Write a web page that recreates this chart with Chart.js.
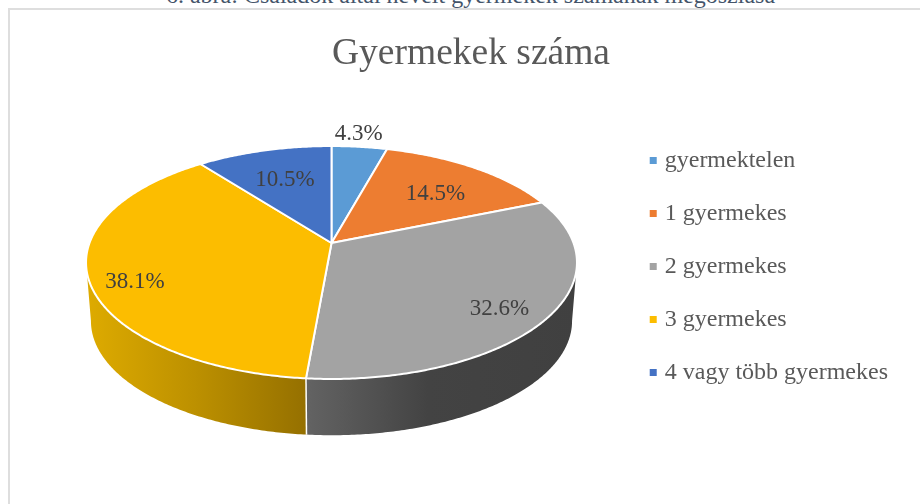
<!DOCTYPE html>
<html>
<head>
<meta charset="utf-8">
<script src="https://cdn.jsdelivr.net/npm/chart.js@4"></script>
<style>
  html, body { margin: 0; padding: 0; background: #fff; overflow: hidden; }
  #page { position: relative; width: 920px; height: 504px; overflow: hidden; }
  #caption { position: absolute; left: 0; width: 941px; top: -18px; text-align: center; font: 24px "Liberation Serif"; color: #44546A; white-space: nowrap; }
  #frame { position: absolute; left: 8px; top: 8px; width: 940px; height: 520px; border: 2px solid #DEDEDE; }
  canvas { position: absolute; left: 0; top: 0; }
</style>
</head>
<body>
<div id="page">
  <div id="caption">6. ábra: Családok által nevelt gyermekek számának megoszlása</div>
  <div id="frame"></div>
  <canvas id="pieChart" width="920" height="504"></canvas>
</div>
<script>
const categories = ['gyermektelen', '1 gyermekes', '2 gyermekes', '3 gyermekes', '4 vagy több gyermekes'];
const shares = [4.3, 14.5, 32.6, 38.1, 10.5];
const titleText = 'Gyermekek száma';

const sliceColors = ['#5B9BD5', '#ED7D31', '#A3A3A3', '#FCBD00', '#4472C4'];
// side wall gradients, only the two front slices show a wall
const wallColors = [null, null, ['#636363', '#434343', '#404040'], ['#DEAB00', '#BC9000', '#957000'], null];
const serif = '"Liberation Serif", "Times New Roman", serif';

// where the percent label sits: radius factor on the slice middle, then a small nudge
const labelRadius = [1.18, 0.705, 0.794, 0.812, 0.647];
const labelNudge = [[-5, 2], [0, 6], [0, 8], [-0.5, 12], [-0.5, 0]];

// perspective of the tilted disc
const apexX = 331.5;
const apexY = 243;
const tiltSquash = 113.2 / 242;
const tiltDepth = 0.1674;
const wallShift = 59;
const wallScale = 0.98;

function project(angle, radius, r, bottom) {
  const u = Math.cos(angle) * r;
  const v = Math.sin(angle) * r;
  const w = 1 - tiltDepth * v;
  const s = bottom ? wallScale : 1;
  return {
    x: apexX + s * radius * u / w,
    y: apexY + (bottom ? wallShift : 0) + s * radius * tiltSquash * v / w
  };
}

function arcPoints(start, end, radius, bottom) {
  const pts = [];
  const steps = Math.max(2, Math.ceil((end - start) / 0.01));
  for (let i = 0; i <= steps; i++) {
    pts.push(project(start + (end - start) * i / steps, radius, 1, bottom));
  }
  return pts;
}

// 3D look: the library's arc elements give the angles, the plugin draws them tilted
const tiltedPie = {
  id: 'tiltedPie',
  beforeDatasetDraw(chart) {
    const ctx = chart.ctx;
    const arcs = chart.getDatasetMeta(0).data;
    const frontStart = Math.asin(tiltDepth);
    const frontEnd = Math.PI - frontStart;

    ctx.save();
    ctx.lineJoin = 'round';

    // walls
    arcs.forEach((arc, i) => {
      if (!wallColors[i]) return;
      const start = Math.max(arc.startAngle, frontStart);
      const end = Math.min(arc.endAngle, frontEnd);
      if (end <= start) return;
      const top = arcPoints(start, end, arc.outerRadius, false);
      const low = arcPoints(start, end, arc.outerRadius, true).reverse();
      const all = top.concat(low);
      const xs = all.map(p => p.x);
      const grad = ctx.createLinearGradient(Math.min(...xs), 0, Math.max(...xs), 0);
      grad.addColorStop(0, wallColors[i][0]);
      grad.addColorStop(i === 2 ? 0.45 : 0.5, wallColors[i][1]);
      grad.addColorStop(1, wallColors[i][2]);
      ctx.beginPath();
      all.forEach((p, k) => k ? ctx.lineTo(p.x, p.y) : ctx.moveTo(p.x, p.y));
      ctx.closePath();
      ctx.fillStyle = grad;
      ctx.fill();
    });

    // seam between the walls
    arcs.forEach(arc => {
      if (arc.endAngle > frontStart && arc.endAngle < frontEnd) {
        const a = project(arc.endAngle, arc.outerRadius, 1, false);
        const b = project(arc.endAngle, arc.outerRadius, 1, true);
        ctx.beginPath();
        ctx.moveTo(a.x, a.y);
        ctx.lineTo(b.x, b.y);
        ctx.strokeStyle = '#fff';
        ctx.lineWidth = 1.5;
        ctx.stroke();
      }
    });

    // top face
    arcs.forEach((arc, i) => {
      const pts = arcPoints(arc.startAngle, arc.endAngle, arc.outerRadius, false);
      ctx.beginPath();
      ctx.moveTo(apexX, apexY);
      pts.forEach(p => ctx.lineTo(p.x, p.y));
      ctx.closePath();
      ctx.fillStyle = sliceColors[i];
      ctx.fill();
      ctx.strokeStyle = '#fff';
      ctx.lineWidth = 2;
      ctx.stroke();
    });

    // percent labels
    ctx.font = '23px ' + serif;
    ctx.fillStyle = '#404040';
    ctx.textAlign = 'center';
    ctx.textBaseline = 'middle';
    arcs.forEach((arc, i) => {
      const mid = (arc.startAngle + arc.endAngle) / 2;
      const p = project(mid, arc.outerRadius, labelRadius[i], false);
      ctx.fillText(shares[i].toFixed(1) + '%', p.x + labelNudge[i][0], p.y + labelNudge[i][1]);
    });
    ctx.restore();
    return false;
  },
  afterDraw(chart) {
    // small square legend markers
    const ctx = chart.ctx;
    chart.legend.legendHitBoxes.forEach((box, i) => {
      ctx.fillStyle = sliceColors[i];
      ctx.fillRect(box.left + 4, box.top + box.height / 2 - 4, 7, 7);
    });
  }
};

new Chart(document.getElementById('pieChart').getContext('2d'), {
  type: 'pie',
  data: {
    labels: categories,
    datasets: [{
      data: shares,
      backgroundColor: sliceColors,
      borderWidth: 0
    }]
  },
  options: {
    responsive: false,
    animation: false,
    radius: 242,
    layout: { padding: { left: 44, right: 22, top: 30, bottom: 0 } },
    plugins: {
      tooltip: { enabled: false },
      title: {
        display: true,
        text: titleText,
        color: '#595959',
        font: { family: serif, size: 37.5, weight: 'normal' },
        padding: { top: 2, bottom: 46 }
      },
      legend: {
        position: 'right',
        labels: {
          color: '#595959',
          font: { family: serif, size: 24 },
          padding: 29,
          boxWidth: 7,
          boxHeight: 7,
          generateLabels(chart) {
            return categories.map((name, i) => ({
              text: name,
              fillStyle: 'rgba(0,0,0,0)',
              strokeStyle: 'rgba(0,0,0,0)',
              fontColor: '#595959',
              lineWidth: 0,
              index: i
            }));
          }
        }
      }
    }
  },
  plugins: [tiltedPie]
});
</script>
</body>
</html>
